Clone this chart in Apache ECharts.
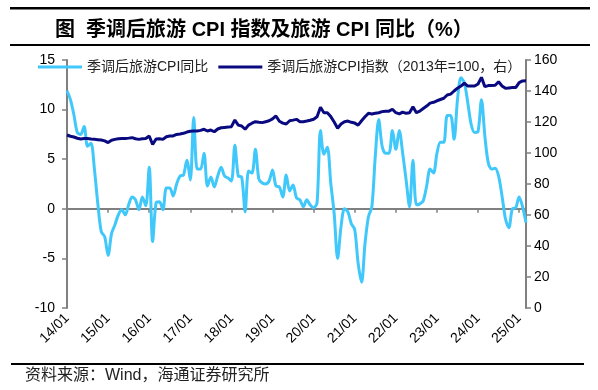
<!DOCTYPE html>
<html>
<head>
<meta charset="utf-8">
<script src="https://cdn.jsdelivr.net/npm/echarts@6/dist/echarts.min.js"></script>
<style>
html,body{margin:0;padding:0;background:#fff;}
#chart{width:598px;height:390px;}
</style>
</head>
<body>
<div id="chart"></div>
<script>
// Monthly categories 2014-01 .. 2025-03
var startYear = 2014, endYear = 2025, endMonth = 3;
var categories = [];
for (var y = startYear; y <= endYear; y++) {
  for (var m = 1; m <= 12; m++) {
    if (y === endYear && m > endMonth) break;
    categories.push(String(y).slice(2) + '/' + (m < 10 ? '0' + m : m));
  }
}
var yearTickLabels = ['14/01','15/01','16/01','17/01','18/01','19/01','20/01','21/01','22/01','23/01','24/01','25/01'];

// 季调后旅游CPI同比 (%), left axis
var cpiYoY = [
  11.9, 11.0, 9.5, 7.7, 7.5, 8.3, 6.3, 6.6, 4.0, 0.5, -2.3, -2.8,
  -4.7, -2.5, -1.6, -0.6, -0.1, -0.6, 0.4, 1.2, 0.9, -0.1, 1.2, 0.3,
  4.2, -3.3, 0.6, 0.7, -0.1, 2.1, 2.1, 1.3, 2.5, 3.3, 3.4, 4.9,
  2.9, 9.2, 4.0, 4.0, 5.6, 2.3, 3.2, 2.2, 3.3, 4.2, 3.3, 3.1,
  2.8, 6.4, 3.3, 3.2, -0.3, 3.8, 3.6, 6.0, 3.0, 2.6, 2.5, 2.8,
  3.9, 2.3, 2.2, 1.2, 3.4, 1.8, 2.4, 1.1, 0.9, 0.2, 0.9, 0.4,
  0.1, 0.6, 7.9, 5.5, 6.2, 2.6, -0.5, -5.0, -1.8, 0.0, -0.3, -1.5,
  -2.1, -5.5, -7.4, -3.5, -0.8, 0.2, 5.3, 9.0, 6.3, 5.6, 5.6, 7.9,
  6.0, 7.9, 5.6, 2.9, 0.2, 4.9, 0.4, 0.5, 0.8, 2.3, 4.0, 3.6,
  5.6, 6.7, 6.7, 9.4, 9.4, 7.0, 11.0, 13.2, 12.7, 10.7, 8.5, 7.7,
  7.8, 11.0, 7.3, 4.6, 4.0, 4.1, 3.3, 1.3, -1.0, -1.9, 0.0, 0.1,
  1.2, 0.2, -1.4
];

// 季调后旅游CPI指数 (2013=100), right axis
var cpiIndex = [
  111.6, 110.8, 110.3, 109.5, 109.0, 109.4, 109.4, 109.0, 108.8, 108.6, 108.4, 107.8,
  106.7, 108.2, 108.8, 109.2, 109.4, 109.4, 109.6, 109.9, 109.2, 108.8, 109.2, 109.4,
  111.0, 105.5, 109.0, 109.2, 108.8, 110.5, 111.0, 111.0, 112.0, 112.3, 112.7, 113.5,
  114.0, 114.2, 114.2, 114.6, 115.3, 114.2, 114.8, 113.7, 115.5, 116.3, 116.5, 116.7,
  117.0, 121.3, 118.0, 117.4, 115.3, 118.0, 119.2, 120.2, 119.8, 119.6, 120.2, 120.8,
  122.0, 123.9, 120.5, 119.3, 118.7, 120.8, 121.2, 121.7, 120.2, 120.2, 120.6, 121.1,
  121.8, 123.4, 129.5, 126.0, 126.0, 123.5, 120.0, 116.0, 118.7, 120.2, 120.6, 119.8,
  119.3, 118.0, 120.8, 123.4, 125.6, 125.2, 125.6, 126.0, 126.7, 127.0, 127.0, 128.2,
  126.0, 125.2, 126.4, 125.6, 126.0, 129.9, 126.0, 127.0, 128.7, 130.3, 132.2, 132.7,
  133.7, 134.5, 135.3, 137.4, 138.0, 140.0, 141.8, 143.2, 145.0, 143.2, 143.2, 143.2,
  144.5, 148.8, 142.8, 143.5, 143.6, 143.7, 146.0, 143.2, 141.7, 142.0, 142.2, 142.2,
  145.4, 146.5, 146.6
];

var FONT = "'Liberation Sans', 'Noto Sans CJK SC', sans-serif";
var AXIS_GRAY = '#808080';

var chart = echarts.init(document.getElementById('chart'), null, {renderer: 'canvas'});
var isYearTick = function (idx, val) { return yearTickLabels.indexOf(val) >= 0; };

chart.setOption({
  backgroundColor: '#fff',
  animation: false,
  textStyle: {fontFamily: FONT},
  title: {
    text: '图  季调后旅游 CPI 指数及旅游 CPI 同比（%）',
    left: 50, top: 15,
    textStyle: {fontFamily: FONT, fontWeight: 'bold', fontSize: 20, color: '#000'}
  },
  graphic: [
    {type: 'rect', shape: {x: 10, y: 7, width: 580, height: 2.5}, style: {fill: '#000'}, silent: true},
    {type: 'rect', shape: {x: 10, y: 44, width: 580, height: 2}, style: {fill: '#000'}, silent: true},
    {type: 'rect', shape: {x: 11, y: 363, width: 573, height: 2}, style: {fill: '#000'}, silent: true},
    {type: 'text', left: 25, top: 368, style: {text: '资料来源：Wind，海通证券研究所', font: '16px ' + FONT, fill: '#222'}, silent: true}
  ],
  legend: {
    left: 33, top: 55,
    icon: 'rect',
    itemWidth: 44, itemHeight: 3, itemGap: 10,
    textStyle: {fontSize: 14, color: '#222', fontFamily: FONT},
    data: ['季调后旅游CPI同比', '季调后旅游CPI指数（2013年=100，右）']
  },
  grid: {left: 67, right: 72, top: 60, bottom: 82, containLabel: false},
  xAxis: [
    {
      type: 'category', data: categories, boundaryGap: false,
      axisLine: {onZero: true, onZeroAxisIndex: 0, lineStyle: {color: AXIS_GRAY, width: 2}},
      axisTick: {show: true, inside: false, length: 4, interval: isYearTick, lineStyle: {color: AXIS_GRAY, width: 1.5}},
      axisLabel: {show: false},
      splitLine: {show: false}
    },
    {
      type: 'category', data: categories, boundaryGap: false, position: 'bottom',
      axisLine: {show: false, onZero: false},
      axisTick: {show: false},
      axisLabel: {show: true, interval: isYearTick, rotate: 45, margin: 8, fontSize: 14, color: '#000', fontFamily: FONT},
      splitLine: {show: false}
    }
  ],
  yAxis: [
    {
      type: 'value', min: -10, max: 15, interval: 5, position: 'left',
      axisLine: {show: true, lineStyle: {color: AXIS_GRAY, width: 2}},
      axisTick: {show: true, length: 5, lineStyle: {color: AXIS_GRAY, width: 1.5}},
      axisLabel: {fontSize: 14, color: '#000', margin: 12, fontFamily: FONT},
      splitLine: {show: false}
    },
    {
      type: 'value', min: 0, max: 160, interval: 20, position: 'right',
      axisLine: {show: true, lineStyle: {color: AXIS_GRAY, width: 2}},
      axisTick: {show: true, length: 5, lineStyle: {color: AXIS_GRAY, width: 1.5}},
      axisLabel: {fontSize: 14, color: '#000', margin: 8, fontFamily: FONT},
      splitLine: {show: false}
    }
  ],
  series: [
    {
      name: '季调后旅游CPI同比', type: 'line', xAxisIndex: 0, yAxisIndex: 0,
      data: cpiYoY, symbol: 'none', smooth: 0.3,
      lineStyle: {color: '#41C8FA', width: 3}, itemStyle: {color: '#41C8FA'}, z: 2
    },
    {
      name: '季调后旅游CPI指数（2013年=100，右）', type: 'line', xAxisIndex: 0, yAxisIndex: 1,
      data: cpiIndex, symbol: 'none', smooth: false,
      lineStyle: {color: '#0A0A80', width: 3}, itemStyle: {color: '#0A0A80'}, z: 3
    }
  ]
});
</script>
</body>
</html>
